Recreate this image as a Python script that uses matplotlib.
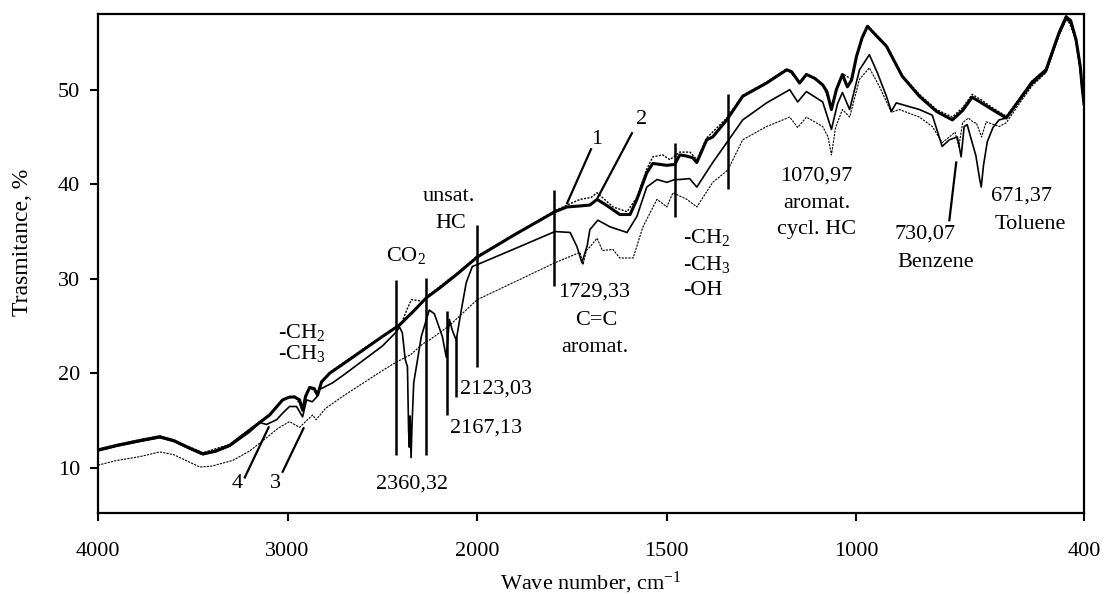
import numpy as np
import matplotlib
matplotlib.use("Agg")
import matplotlib.pyplot as plt

# ---------------- data ----------------
wn1 = [4000, 3900, 3779, 3674, 3600, 3516, 3447, 3380, 3305, 3200, 3095, 3026, 2990, 2963,
       2937, 2921, 2905, 2884, 2860, 2842, 2821, 2779, 2700, 2600, 2500, 2411, 2340, 2268,
       2200, 2100, 2000, 1900, 1795, 1763, 1730, 1703, 1684, 1660, 1624, 1597, 1579, 1553,
       1537, 1500, 1479, 1466, 1450, 1432, 1421, 1395, 1379, 1342, 1300, 1237, 1184, 1171,
       1150, 1132, 1110, 1089, 1078, 1066, 1053, 1037, 1024, 1013, 1000, 985, 971, 950, 921,
       879, 834, 789, 747, 720, 695, 670, 642, 605, 571, 537, 500, 466, 447, 435, 421, 410,
       405, 400]
t1 = [11.9, 12.4, 12.9, 13.3, 12.9, 12.1, 11.5, 11.8, 12.4, 14.0, 15.6, 17.2, 17.5, 17.5,
      17.2, 16.1, 17.6, 18.5, 18.4, 17.7, 19.1, 20.0, 21.1, 22.5, 23.9, 25.1, 26.5, 28.0,
      29.0, 30.6, 32.3, 34.7, 37.1, 37.6, 37.7, 37.8, 38.4, 37.8, 36.8, 36.8, 38.4, 41.2,
      42.2, 42.0, 42.1, 43.1, 43.0, 42.8, 42.3, 44.7, 45.0, 46.8, 49.3, 50.7, 52.1, 51.9,
      50.7, 51.6, 51.2, 50.5, 49.8, 47.9, 50.0, 51.6, 50.3, 51.0, 53.5, 55.5, 56.7, 55.8, 54.6,
      51.4, 49.3, 47.7, 46.8, 47.8, 49.2, 48.6, 47.9, 47.0, 48.9, 50.8, 52.1, 56.0, 57.7, 57.3,
      55.3, 52.5, 50.3, 48.5]

wn2 = [4000, 3779, 3674, 3516, 3447, 3305, 3200, 3095, 3026, 2963, 2921, 2884, 2842, 2821,
       2779, 2600, 2426, 2395, 2370, 2347, 2310, 2284, 2268, 2100, 2000, 1795, 1763, 1729,
       1700, 1684, 1642, 1605, 1579, 1553, 1537, 1511, 1492, 1466, 1439, 1421, 1395, 1342,
       1300, 1237, 1184, 1150, 1132, 1089, 1066, 1053, 1037, 1013, 1000, 971, 921, 879, 834,
       789, 747, 720, 695, 670, 642, 605, 571, 537, 500, 466, 447, 421, 405, 400]
t2 = [12.0, 13.0, 13.4, 12.2, 11.6, 12.5, 14.1, 15.7, 17.3, 17.6, 16.3, 18.6, 17.8, 19.2,
      20.1, 22.6, 24.9, 25.5, 26.8, 27.8, 27.7, 27.6, 28.1, 30.7, 32.4, 37.2, 37.8, 38.4,
      38.6, 39.1, 37.6, 37.1, 38.6, 41.6, 42.9, 43.1, 42.6, 43.4, 43.4, 42.6, 44.9, 47.0,
      49.4, 50.8, 52.2, 50.8, 51.7, 50.6, 48.1, 50.1, 51.7, 51.1, 53.6, 56.8, 54.7, 51.5, 49.5,
      47.9, 47.1, 48.1, 49.5, 48.9, 48.1, 47.2, 49.0, 50.9, 52.2, 56.1, 57.8, 55.4, 50.4, 48.6]

wn4 = [4000, 3900, 3779, 3674, 3600, 3516, 3447, 3380, 3305, 3200, 3147, 3111, 3058, 3026,
       2990, 2953, 2921, 2900, 2870, 2847, 2832, 2763, 2700, 2600, 2500, 2426, 2410, 2395,
       2380, 2368, 2362, 2358, 2354, 2349, 2344, 2335, 2321, 2295, 2253, 2226, 2184, 2163,
       2147, 2132, 2111, 2084, 2058, 2026, 2000, 1900, 1795, 1755, 1737, 1724, 1710, 1703,
       1682, 1650, 1605, 1579, 1553, 1526, 1500, 1479, 1466, 1440, 1421, 1379, 1342, 1300,
       1237, 1176, 1155, 1132, 1089, 1066, 1050, 1037, 1018, 992, 966, 945, 921, 908, 895,
       834, 800, 774, 755, 734, 724, 716, 708, 697, 685, 675, 671, 665, 655, 640, 624, 605,
       571, 537, 500, 466, 447, 435, 421, 410, 405, 400]
t4 = [11.8, 12.3, 12.8, 13.2, 12.8, 12.0, 11.4, 11.7, 12.3, 13.8, 14.8, 14.6, 15.1, 15.8,
      16.5, 16.5, 15.4, 17.2, 17.0, 17.5, 18.3, 19.0, 19.9, 21.4, 22.9, 24.4, 24.9, 24.3,
      21.5, 20.7, 14.0, 12.2, 15.5, 11.1, 14.5, 19.0, 20.7, 23.9, 26.7, 26.3, 23.9, 21.7,
      25.7, 24.6, 23.5, 26.7, 29.6, 31.3, 31.5, 33.2, 35.0, 34.9, 33.4, 31.7, 33.5, 35.2,
      36.2, 35.5, 34.9, 36.6, 39.7, 40.5, 40.2, 40.5, 40.5, 40.6, 39.7, 42.3, 44.4, 46.8,
      48.6, 50.0, 48.7, 49.8, 48.7, 45.8, 48.5, 49.7, 47.9, 52.1, 53.7, 51.8, 49.3, 47.7, 48.6,
      47.9, 47.3, 44.0, 44.7, 45.0, 42.9, 46.1, 46.3, 44.7, 43.0, 40.5, 39.7, 42.0, 44.5, 46.0,
      46.8, 47.0, 48.8, 50.6, 51.9, 55.8, 57.5, 57.1, 55.1, 52.3, 50.1, 48.3]

wn3 = [4000, 3900, 3779, 3674, 3600, 3516, 3463, 3400, 3289, 3200, 3111, 3050, 2990, 2937,
       2900, 2868, 2850, 2800, 2700, 2600, 2500, 2426, 2350, 2289, 2247, 2150, 2000, 1905,
       1795, 1729, 1721, 1712, 1700, 1684, 1670, 1642, 1624, 1589, 1563, 1526, 1500, 1484,
       1447, 1421, 1379, 1339, 1300, 1237, 1176, 1155, 1132, 1089, 1075, 1066, 1055, 1037,
       1018, 992, 966, 939, 908, 887, 834, 800, 774, 755, 740, 730, 720, 705, 690, 684, 670,
       658, 624, 605, 571, 537, 500, 466, 447, 435, 421, 410, 405, 400]
t3 = [10.3, 10.8, 11.2, 11.7, 11.4, 10.6, 10.1, 10.2, 10.8, 11.8, 13.2, 14.2, 14.9, 14.3,
      15.0, 15.6, 15.1, 16.3, 17.7, 19.0, 20.3, 21.2, 22.0, 23.1, 23.6, 25.0, 27.8, 29.6,
      31.7, 32.8, 31.5, 33.0, 33.5, 34.3, 33.0, 33.1, 32.2, 32.2, 35.5, 38.4, 37.6, 39.1,
      38.4, 37.6, 40.2, 41.5, 44.7, 46.1, 47.1, 46.0, 47.1, 46.1, 45.0, 43.1, 46.0, 47.9,
      47.1, 51.1, 52.3, 50.3, 47.6, 47.9, 47.1, 46.1, 44.4, 45.0, 45.5, 44.0, 46.5, 47.0, 46.5,
      46.5, 45.0, 46.6, 46.1, 46.5, 48.5, 50.4, 51.8, 55.7, 57.4, 57.0, 55.0, 52.2, 50.0, 48.2]

x_ticks = [4000, 3000, 2000, 1500, 1000, 400]
y_ticks = [10, 20, 30, 40, 50]

# marker lines: (wavenumber, ymin, ymax)
marker_wn = [2426, 2268, 2158, 2111, 2000, 1797, 1479, 1339]
marker_lo = [11.4, 11.4, 15.6, 17.5, 20.7, 29.2, 36.5, 39.5]
marker_hi = [29.9, 30.1, 26.6, 23.8, 35.7, 39.4, 44.4, 49.5]

# leader lines: (x0, y0, x1, y1)
leaders = [(1763, 38.0, 1700, 43.7), (1682, 38.6, 1592, 45.4),
           (3226, 9.0, 3100, 14.3), (3026, 9.6, 2916, 14.2),
           (737, 42.3, 755, 36.2)]

# text labels: (text, x, y, ha)
labels = [
    ("CO$_2$", 2374, 32.5, "center"),
    ("-CH$_2$", 3053, 24.3, "left"),
    ("-CH$_3$", 3053, 22.1, "left"),
    ("unsat.", 2147, 38.7, "center"),
    ("HC", 2140, 35.9, "center"),
    ("2123,03", 2089, 18.3, "left"),
    ("2167,13", 2142, 14.2, "left"),
    ("2360,32", 2342, 8.3, "center"),
    ("1729,33", 1787, 28.6, "left"),
    ("C=C", 1687, 25.6, "center"),
    ("aromat.", 1689, 22.7, "center"),
    ("-CH$_2$", 1458, 34.4, "left"),
    ("-CH$_3$", 1458, 31.5, "left"),
    ("-OH", 1458, 28.8, "left"),
    ("1070,97", 1105, 40.9, "center"),
    ("aromat.", 1105, 38.0, "center"),
    ("cycl. HC", 1105, 35.2, "center"),
    ("730,07", 818, 34.7, "center"),
    ("Benzene", 792, 31.7, "center"),
    ("671,37", 566, 38.7, "center"),
    ("Toluene", 542, 35.7, "center"),
    ("1", 1684, 44.7, "center"),
    ("2", 1566, 46.8, "center"),
    ("4", 3268, 8.4, "center"),
    ("3", 3063, 8.4, "center"),
]

# ---------------- plotting ----------------
plt.rcParams['font.family'] = ['Liberation Serif', 'DejaVu Serif']
plt.rcParams['mathtext.fontset'] = 'custom'
plt.rcParams['mathtext.rm'] = 'Liberation Serif'
plt.rcParams['mathtext.it'] = 'Liberation Serif:italic'
plt.rcParams['mathtext.bf'] = 'Liberation Serif:bold'


def fwd(x):
    x = np.asarray(x, dtype=float)
    return np.where(x > 2000, 1000 + x / 2.0, x)


def inv(u):
    u = np.asarray(u, dtype=float)
    return np.where(u > 2000, (u - 1000) * 2.0, u)


fig = plt.figure(figsize=(11.05, 5.94), dpi=100)
ax = fig.add_axes([98 / 1105, (594 - 513) / 594, (1084 - 98) / 1105, (513 - 14) / 594])
ax.set_xscale('function', functions=(fwd, inv))

ax.plot(wn3, t3, color='black', lw=0.8, ls=(0, (2, 1)))
ax.plot(wn4, t4, color='black', lw=1.2)
ax.plot(wn2, t2, color='black', lw=1.0, ls=(0, (1.5, 1)))
ax.plot(wn1, t1, color='black', lw=2.2)

for w, lo, hi in zip(marker_wn, marker_lo, marker_hi):
    ax.plot([w, w], [lo, hi], color='black', lw=1.8, solid_capstyle='butt')
for x0, y0, x1, y1 in leaders:
    ax.plot([x0, x1], [y0, y1], color='black', lw=1.6)
for txt, x, y, ha in labels:
    ax.text(x, y, txt, ha=ha, va='center', fontsize=16)

ax.set_xlim(4000, 400)
ax.set_ylim(5.24, 58.0)
ax.set_xticks(x_ticks)
ax.set_xticklabels([str(v) for v in x_ticks])
ax.xaxis.set_minor_locator(matplotlib.ticker.NullLocator())
ax.set_yticks(y_ticks)
ax.set_yticklabels([str(v) for v in y_ticks])
ax.tick_params(axis='x', direction='out', length=6, width=1.5, pad=15, labelsize=16)
ax.tick_params(axis='y', direction='out', length=6, width=1.5, pad=7, labelsize=16)
for s in ax.spines.values():
    s.set_linewidth(1.6)

ax.set_xlabel("Wave number, cm$^{-1}$", fontsize=16, labelpad=6)
ax.set_ylabel("Trasmitance, %", fontsize=17)
ax.yaxis.set_label_coords(-0.066, 0.543)

fig.savefig("out.png", dpi=100)
